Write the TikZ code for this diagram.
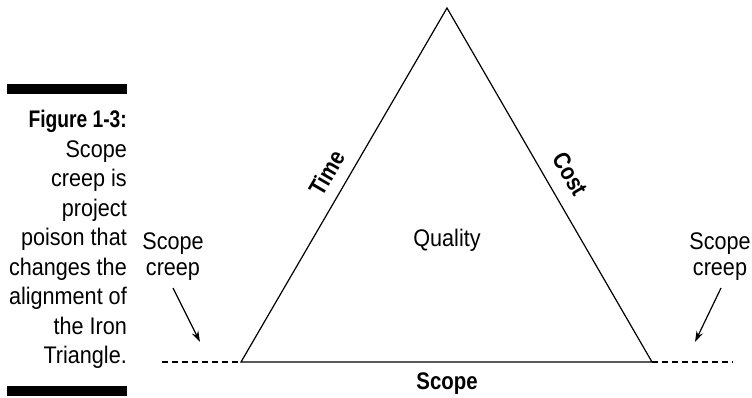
\documentclass[tikz,border=0pt]{standalone}
\usepackage{fontspec}
\setmainfont{Liberation Sans}[FakeStretch=0.9]
\usetikzlibrary{arrows.meta}
\newcommand{\condbf}[2][0.944]{\scalebox{#1}[1]{\bfseries #2}}
\begin{document}
\begin{tikzpicture}[x=1pt,y=-1pt,
  edge/.style={line width=1.2pt},
  dashline/.style={line width=1.2pt,dash pattern=on 6pt off 4pt},
  pointer/.style={line width=1.2pt,-{Stealth[length=11pt,width=7pt]}},
  lbl/.style={inner sep=0pt,font=\fontsize{24}{26}\selectfont,align=center},
  blbl/.style={inner sep=0pt,font=\fontsize{24}{26}\selectfont},
  bar/.style={fill=black,draw=none}]
\useasboundingbox (0,0) rectangle (752,397);
% caption bars
\fill[bar] (7,84) rectangle (127,94);
\fill[bar] (7,386) rectangle (127,396);
\node[inner sep=0pt,anchor=north east,align=right,
      font=\fontsize{24}{29.5}\selectfont] (cap) at (127,110)
  {\condbf[0.89]{Figure 1-3:}\\Scope\\creep is\\project\\poison that\\changes the\\alignment of\\the Iron\\Triangle.};
% triangle
\coordinate (A) at (447,8);
\coordinate (L) at (241,362);
\coordinate (R) at (652,362);
\coordinate (DL) at (162,362);
\coordinate (DR) at (733,362);
\draw[edge] (L) -- (A) -- (R) -- cycle;
\draw[dashline] (DL) -- (L);
\draw[dashline] (R) -- (DR);
% labels
\node[blbl,rotate=59.8] (time) at (327,173) {\condbf{Time}};
\node[blbl,rotate=-59.8] (cost) at (570,174) {\condbf{Cost}};
\node[lbl] (quality) at (447,240) {Quality};
\node[blbl] (scope) at (447,384) {\condbf{Scope}};
\node[lbl] (scl) at (173,257) {Scope\\creep};
\node[lbl] (scr) at (720,257) {Scope\\creep};
% arrows
\coordinate (la1) at (173,288);
\coordinate (la2) at (200,342);
\coordinate (ra1) at (721,288);
\coordinate (ra2) at (695,342);
\draw[pointer] (la1) -- (la2);
\draw[pointer] (ra1) -- (ra2);
\end{tikzpicture}
\end{document}
